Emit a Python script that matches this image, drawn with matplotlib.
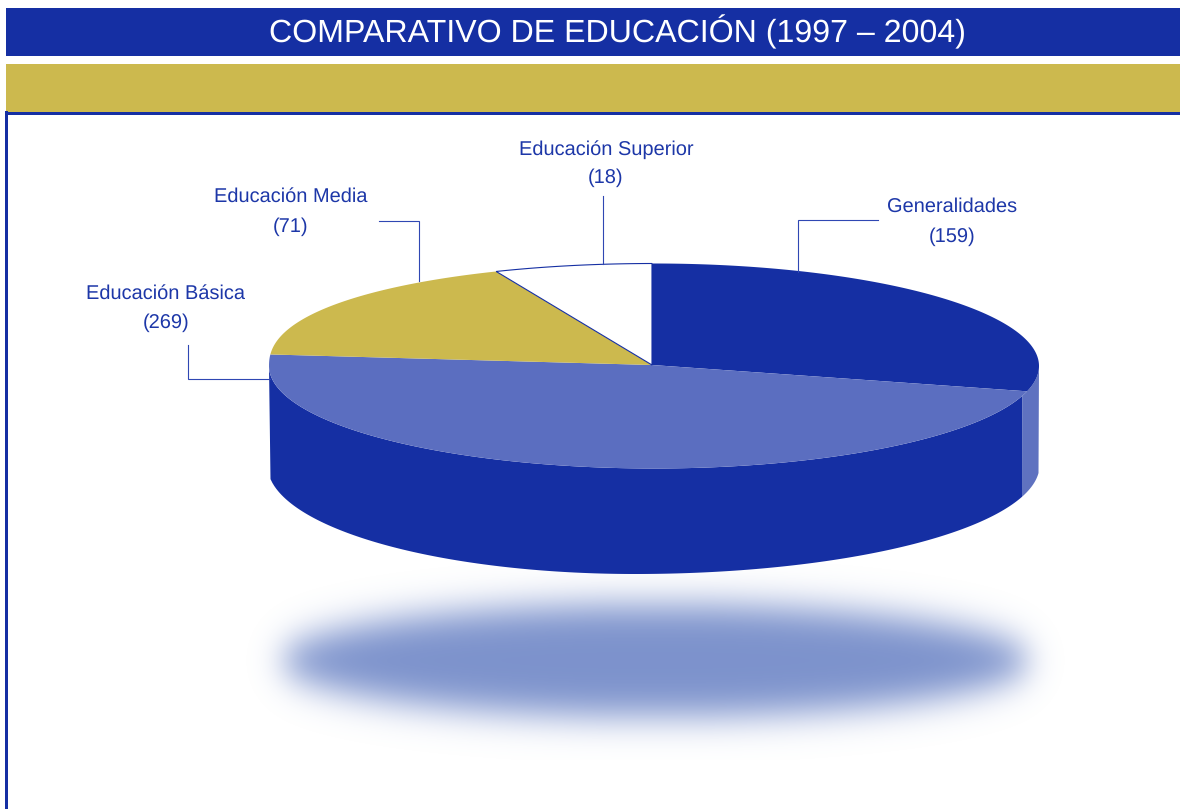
import numpy as np
import matplotlib
matplotlib.use("Agg")
import matplotlib.pyplot as plt
from matplotlib.patches import Polygon, Rectangle

plt.rcParams['font.family'] = ['Liberation Sans', 'DejaVu Sans']
plt.rcParams['text.hinting'] = 'none'

# Printed labels
categories = ["Generalidades", "Educación Básica", "Educación Media", "Educación Superior"]
label_values = [159, 269, 71, 18]
# Slice sizes as actually drawn in the picture (degrees, clockwise from the top).
# They differ from the printed values: the reference's slices are not proportional.
drawn_degrees = [104.6, 170.5, 61.0, 23.9]
start_deg = -0.3
slice_colors = ["#152FA3", "#5B6EC0", "#CCB94E", "#FFFFFF"]

title = "COMPARATIVO DE EDUCACIÓN (1997 – 2004)"
BLUE = "#152FA3"
LIGHT = "#5F72C0"
GOLD = "#CCB94E"
TXT = "#1D37A8"
LINE = "#2F47B3"
SHADOW = "#7D93CC"

fig = plt.figure(figsize=(11.8, 8.09), dpi=100)
ax = fig.add_axes([0, 0, 1, 1])
ax.set_xlim(0, 1180)
ax.set_ylim(809, 0)
ax.axis("off")

# Header bands and frame
ax.add_patch(Rectangle((6, 8), 1174, 48, fc=BLUE, ec="none"))
ax.add_patch(Rectangle((6, 64), 1174, 47.5, fc=GOLD, ec="none"))
ax.add_patch(Rectangle((4.5, 112), 1175.5, 2.5, fc=BLUE, ec="none"))
ax.add_patch(Rectangle((4.5, 111), 3.5, 698, fc=BLUE, ec="none"))
ax.text(617.7, 32, title, color="white", fontsize=23.1, ha="center", va="center")

# Pie geometry
cx, cy, rx, ry = 654, 366, 385, 102.5
ax_x, ax_y = 652, 365
low_x, base_yc, base_b = 635, 465, 109
base_a_left, base_a_right = 367.6, 404.6
wall_x = 1022


def rim(deg):
    deg = np.atleast_1d(deg) % 360
    t = np.radians(deg)
    c = np.cos(t)
    # upper-left quadrant of the reference is a little fuller than an ellipse
    upper_left = (deg > 270)
    c_shape = np.where(upper_left, np.abs(c) ** 0.88, c)
    return cx + rx * np.sin(t), cy - ry * c_shape


def base(x):
    a = np.where(x < low_x, base_a_left, base_a_right)
    u = np.clip((x - low_x) / a, -1, 1)
    return base_yc + base_b * np.sqrt(1 - u ** 2)


edges = start_deg + np.concatenate([[0], np.cumsum(drawn_degrees)])

# Side walls
split_deg = 107.0
xa = np.linspace(wall_x, 270.5, 400)
rim_a = np.linspace(split_deg, 270, 300)
rxs, rys = rim(rim_a)
ax.add_patch(Polygon(np.column_stack([np.r_[xa, rxs[::-1]], np.r_[base(xa), rys[::-1]]]),
                     fc=BLUE, ec="none", zorder=2))
xb = np.linspace(1038.5, wall_x, 60)
rim_b = np.linspace(90, split_deg, 60)
rxs, rys = rim(rim_b)
ax.add_patch(Polygon(np.column_stack([np.r_[xb, rxs[::-1]], np.r_[base(xb), rys[::-1]]]),
                     fc=LIGHT, ec="none", zorder=2))

# Top slices
for a, b, col in zip(edges[:-1], edges[1:], slice_colors):
    xs, ys = rim(np.linspace(a, b, 200))
    is_white = col == "#FFFFFF"
    ax.add_patch(Polygon(np.column_stack([np.r_[ax_x, xs], np.r_[ax_y, ys]]),
                         fc=col, ec=BLUE if is_white else "none",
                         lw=0.8 if is_white else 0, zorder=3))

# Blurred shadow
W = np.arange(200, 1110)
H = np.arange(560, 760)
X, Y = np.meshgrid(W, H)
mask = (((X - 655) / 375.0) ** 2 + ((Y - 660) / 56.0) ** 2 <= 1).astype(float)


def kern(s):
    k = np.exp(-0.5 * (np.arange(-60, 61) / s) ** 2)
    return k / k.sum()


blur = np.apply_along_axis(lambda r: np.convolve(r, kern(15.0), mode="same"), 1, mask)
blur = np.apply_along_axis(lambda c: np.convolve(c, kern(18.0), mode="same"), 0, blur)
rgba = np.zeros(blur.shape + (4,))
rgba[..., :3] = matplotlib.colors.to_rgb(SHADOW)
rgba[..., 3] = np.clip(blur, 0, 1)
ax.imshow(rgba, extent=(200, 1110, 760, 560), aspect="auto", zorder=1,
          interpolation="bilinear")
ax.set_xlim(0, 1180)
ax.set_ylim(809, 0)

# Leader lines
leaders = [
    ([798, 798, 878], [272, 220, 220]),
    ([188, 188, 270], [345, 379, 379]),
    ([379, 419, 419], [221, 221, 281]),
    ([603, 603], [196, 264]),
]
for lx, ly in leaders:
    ax.plot(lx, ly, color=LINE, lw=0.8, zorder=4, solid_joinstyle="miter")

# Labels
label_pos = [(952.5, 207, 237), (166, 294, 323), (291, 197, 227), (606, 150, 178)]
for name, val, (x, y1, y2) in zip(categories, label_values, label_pos):
    ax.text(x, y1, name, color=TXT, fontsize=14.4, ha="center", va="center", zorder=5)
    ax.text(x, y2, f"({val})", color=TXT, fontsize=14.4, ha="center", va="center", zorder=5)

fig.savefig("out.png", dpi=100)
